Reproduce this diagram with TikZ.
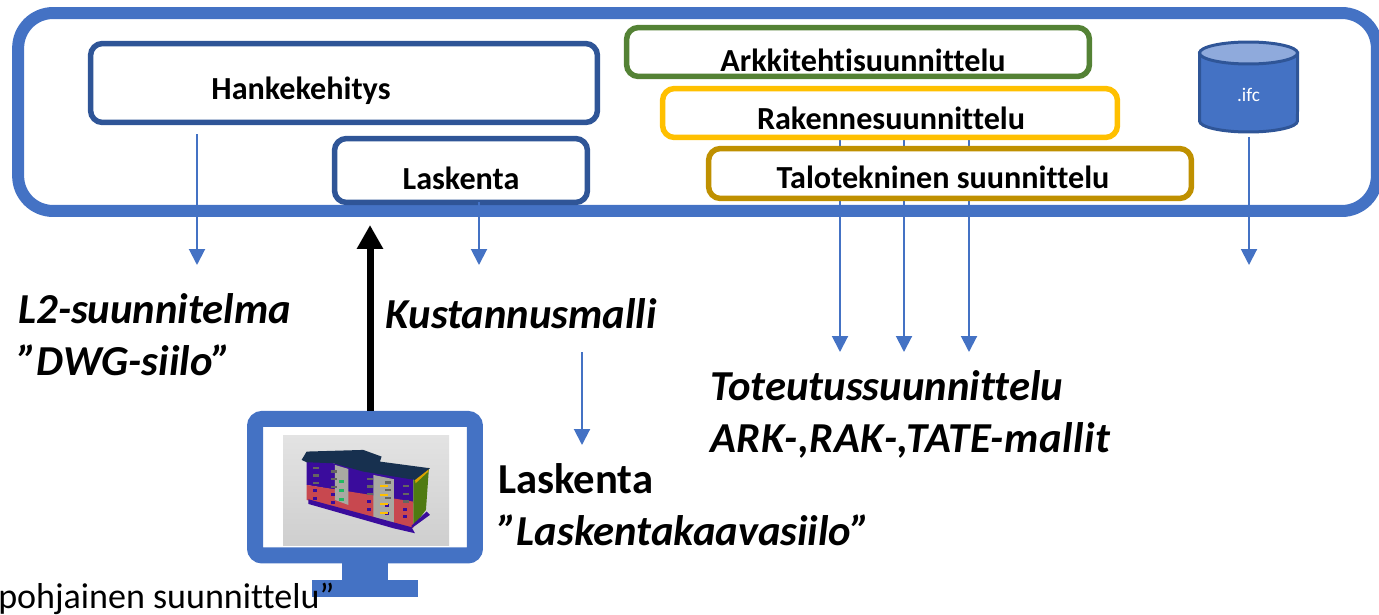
\documentclass[tikz,border=0pt]{standalone}
\usepackage{fontspec}
\setmainfont[Ligatures=NoCommon]{Carlito}
\usetikzlibrary{arrows.meta,backgrounds}
\definecolor{frameBlue}{HTML}{4472C4}
\definecolor{darkBlue}{HTML}{2F5597}
\definecolor{lightBlue}{HTML}{8FAADC}
\definecolor{arkGreen}{HTML}{548235}
\definecolor{rakYellow}{HTML}{FFC000}
\definecolor{tateGold}{HTML}{BF9000}
\definecolor{roofBlue}{HTML}{17304F}
\definecolor{wallPurple}{HTML}{3A0C9C}
\definecolor{wallRed}{HTML}{C8484F}
\definecolor{wallGray}{HTML}{A9A9A2}
\definecolor{wallGreen}{HTML}{4F7A12}
\tikzstyle{roleBox} = [draw, fill=white, rectangle, rounded corners=0.24cm, line width=0.11cm, inner sep=0pt, outer sep=0pt]
\tikzstyle{boxText} = [font=\fontsize{18.3}{20}\selectfont\bfseries, inner sep=0pt]
\tikzstyle{bigText} = [font=\fontsize{24.3}{29.6}\selectfont\bfseries, align=left, inner sep=0pt, anchor=north west]
\tikzstyle{bigItalic} = [bigText, font=\fontsize{24.3}{29.6}\selectfont\bfseries\itshape]
\tikzstyle{thinArrow} = [-{Triangle[length=0.32cm,width=0.32cm]}, line width=0.04cm, frameBlue]
\tikzstyle{standPart} = [fill=frameBlue, rectangle, inner sep=0pt, outer sep=0pt]
\begin{document}
\begin{tikzpicture}[x=0.02cm,y=-0.02cm]
	\useasboundingbox (0,0) rectangle (1379,615);
	\node[draw=frameBlue, rectangle, rounded corners=0.7cm, line width=0.24cm, minimum width=27.18cm, minimum height=3.96cm, inner sep=0pt] (frame) at (697.5,112) {};
	% upper boxes
	\node[roleBox, draw=darkBlue, minimum width=10.14cm, minimum height=1.58cm, label={[boxText,name=hankeText,xshift=-0.86cm,yshift=-0.16cm]center:Hankekehitys}] (hanke) at (344,83) {};
	\node[roleBox, draw=darkBlue, minimum width=5.06cm, minimum height=1.28cm, label={[boxText,name=laskentaText,yshift=-0.15cm]center:Laskenta}] (laskenta) at (461,170.5) {};
	\node[roleBox, draw=arkGreen, minimum width=9.26cm, minimum height=0.98cm, label={[boxText,name=arkText,xshift=0.1cm,yshift=-0.16cm]center:Arkkitehtisuunnittelu}] (ark) at (858,52) {};
	\node[roleBox, draw=rakYellow, minimum width=9.1cm, minimum height=0.98cm, label={[boxText,name=rakText,xshift=0.02cm,yshift=-0.1cm]center:Rakennesuunnittelu}] (rak) at (890,113) {};
	\node[roleBox, draw=tateGold, minimum width=9.66cm, minimum height=1cm, label={[boxText,name=tateText,xshift=-0.14cm,yshift=-0.07cm]center:Talotekninen suunnittelu}] (tate) at (950,173.5) {};
	% cylinder
	\draw[darkBlue, fill=frameBlue, line width=0.06cm] (1199.5,53) -- (1199.5,121) arc[start angle=180, end angle=360, x radius=0.98cm, y radius=0.22cm] -- (1297.5,53) -- cycle;
	\draw[darkBlue, fill=lightBlue, line width=0.06cm] (1248.5,53) ellipse[x radius=0.98cm, y radius=0.22cm];
	\node[minimum width=1.96cm, minimum height=1.84cm, inner sep=0pt, outer sep=0pt, label={[name=ifcText,text=white,font=\fontsize{11}{13}\selectfont,yshift=-0.16cm]center:.ifc}] (ifc) at (1248.5,87) {};
	% texts below
	\node[bigItalic] (l2) at (18,293) {L2-suunnitelma\\”DWG-siilo”};
	\node[bigItalic] (kustannus) at (385,298) {Kustannusmalli};
	\node[bigItalic] (toteutus) at (710,370) {Toteutussuunnittelu\\\addfontfeature{LetterSpace=1.4}ARK-,RAK-,TATE-mallit};
	\node[bigText] (laskentaNote) at (498,463) {Laskenta\\{\itshape ”Laskentakaavasiilo”}};
	% monitor
	\node[standPart, minimum width=0.92cm, minimum height=0.4cm] (neck) at (365,571) {};
	\node[standPart, minimum width=2.12cm, minimum height=0.34cm] (base) at (365,588.5) {};
	\node[draw=frameBlue, fill=white, rectangle, rounded corners=0.14cm, line width=0.32cm, minimum width=4.4cm, minimum height=2.73cm, inner sep=0pt, outer sep=0.16cm] (monitor) at (365,487.2) {};
	\shade[top color=black!11, bottom color=black!19] (283,435) rectangle (449,545);
	\begin{scope}[xshift=4.8cm,yshift=-8cm,x=0.00667cm,y=-0.00667cm]
		\fill[wallPurple] (200,175) -- (520,235) -- (520,310) -- (200,255) -- cycle;
		\fill[wallRed] (200,255) -- (520,305) -- (520,385) -- (200,300) -- cycle;
		\fill[wallGreen] (520,240) -- (567,205) -- (558,330) -- (520,380) -- cycle;
		\fill[rakYellow!85!black] (525,238) -- (567,203) -- (565,215) -- (527,250) -- cycle;
		\fill[roofBlue] (185,180) -- (200,155) -- (370,150) -- (425,170) -- (420,185) -- (570,205) -- (525,240) -- (370,215) -- (280,190) -- (200,187) -- cycle;
		\fill[wallGray] (285,195) -- (325,207) -- (325,315) -- (285,300) -- cycle;
		\fill[wallGray] (400,225) -- (462,238) -- (462,375) -- (400,350) -- cycle;
		\fill[wallPurple] (515,385) -- (570,345) -- (560,335) -- (515,377) -- cycle;
		\fill[wallPurple] (205,298) -- (515,382) -- (525,400) -- (460,385) -- (205,312) -- cycle;
		\foreach \col in {0,1,3,4,5}
			\foreach \row in {0,1,2}
				\fill[wallGray!60!black] (218+54*\col,200+11*\col+23*\row) rectangle ++(20,7);
		\foreach \col in {0,1,3,4,5}
			\foreach \row in {0,1}
				\fill[wallPurple] (218+54*\col,268+11*\col+23*\row) rectangle ++(14,9);
		\foreach \row in {0,1,2}
			\fill[frameBlue!50!green] (298,240+27*\row) rectangle ++(15,9);
		\foreach \row in {0,1,2,3}
			\fill[rakYellow] (420,255+27*\row) rectangle ++(25,6);
	\end{scope}
	% free ends of the arrows
	\coordinate (hankeTip) at (197,265);
	\coordinate (laskentaTip) at (479,265);
	\coordinate (arkTip) at (840,352);
	\coordinate (rakTip) at (904,352);
	\coordinate (tateTip) at (969,352);
	\coordinate (ifcTip) at (1249,265);
	\coordinate (costStart) at (582,352);
	\coordinate (costTip) at (582,445);
	\coordinate (modelTip) at (370,225);
	\begin{scope}[on background layer]
		\draw[thinArrow] (arkTip |- rak.south) -- (arkTip);
		\draw[thinArrow] (rakTip |- rak.south) -- (rakTip);
		\draw[thinArrow] (tateTip |- rak.south) -- (tateTip);
	\end{scope}
	\draw[thinArrow, shorten <=0.24cm] (hankeTip |- hanke.south) -- (hankeTip);
	\draw[thinArrow] (laskentaTip |- laskenta.south) -- (laskentaTip);
	\draw[thinArrow, shorten <=0.08cm] (ifcTip |- ifc.south) -- (ifcTip);
	\draw[thinArrow] (costStart) -- (costTip);
	\draw[-{Triangle[length=0.48cm,width=0.5cm]}, line width=0.14cm] (modelTip |- monitor.north) -- (modelTip);
	\node[font=\fontsize{20.5}{22}\selectfont, inner sep=0pt, anchor=base east] (caption) at (335,608) {pohjainen suunnittelu”};
\end{tikzpicture}
\end{document}
